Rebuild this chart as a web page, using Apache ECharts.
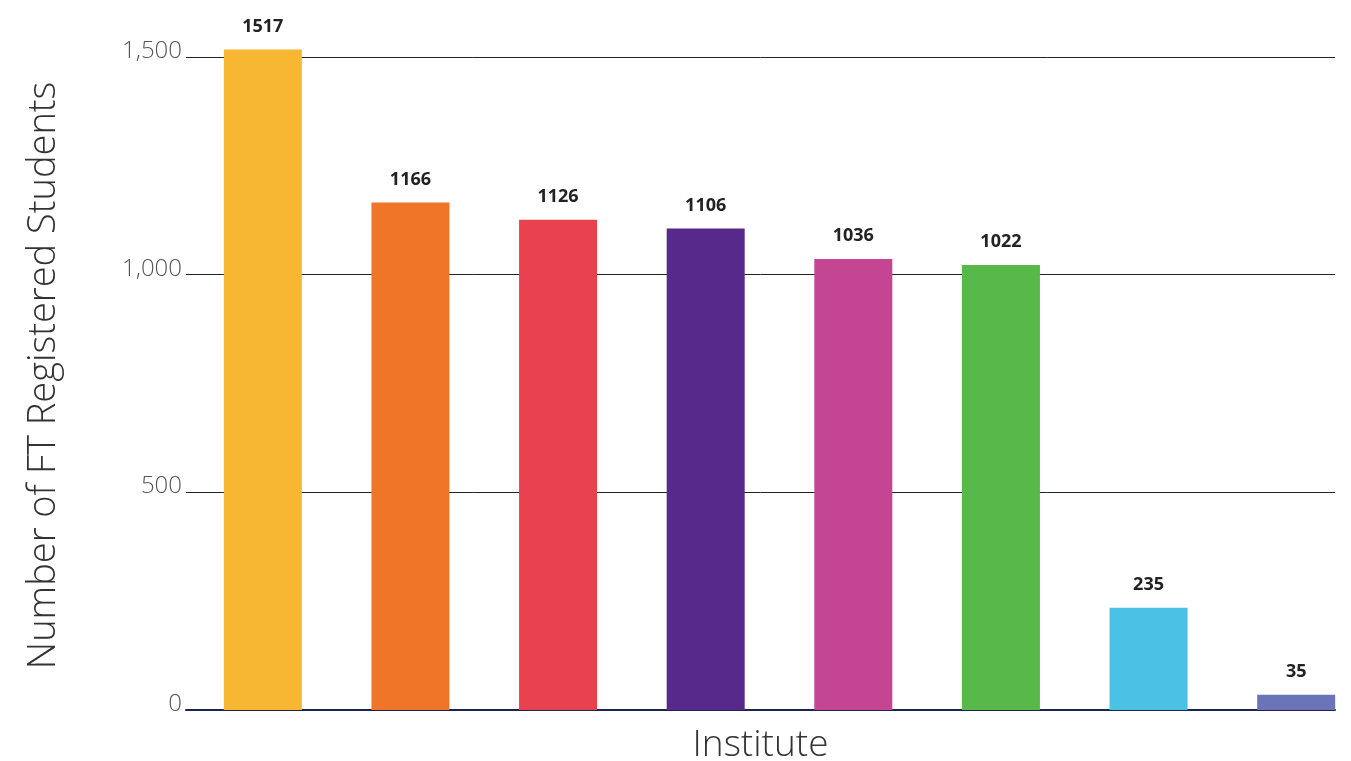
<!DOCTYPE html>
<html>
<head>
<meta charset="utf-8">
<script src="https://cdn.jsdelivr.net/npm/echarts@6/dist/echarts.min.js"></script>
<style>
  html, body { margin: 0; padding: 0; background: #fff; }
  #chart { width: 1351px; height: 761px; }
</style>
</head>
<body>
<div id="chart"></div>
<script>
const institutes = ['A', 'B', 'C', 'D', 'E', 'F', 'G', 'H'];
const students = [1517, 1166, 1126, 1106, 1036, 1022, 235, 35];
const barColors = ['#f7b733', '#ef7628', '#e8414f', '#57298a', '#c44693', '#59b84a', '#4bc1e3', '#6b74b8'];
const yTicks = [0, 500, 1000, 1500];

const font = '"Open Sans", "Noto Sans", sans-serif';

const chart = echarts.init(document.getElementById('chart'));

chart.setOption({
  backgroundColor: '#fff',
  animation: false,
  grid: [
    // grid for axes and gridlines
    { left: 186, right: 16, top: 57, bottom: 51, outerBoundsMode: 'none' },
    // grid for the bars (bands slightly wider than the gridlines)
    { left: 189, width: 1181, top: 57, bottom: 51, outerBoundsMode: 'none' }
  ],
  xAxis: [
    {
      gridIndex: 0,
      type: 'category',
      data: institutes,
      name: 'Institute',
      nameLocation: 'middle',
      nameGap: 17,
      nameTextStyle: { fontFamily: font, fontSize: 37, fontWeight: 300, color: '#333' },
      axisLine: { lineStyle: { color: '#1b2550', width: 2 } },
      axisTick: { show: false },
      axisLabel: { show: false }
    },
    {
      gridIndex: 1,
      type: 'category',
      data: institutes,
      show: false
    }
  ],
  yAxis: [
    {
      gridIndex: 0,
      type: 'value',
      min: yTicks[0],
      max: yTicks[yTicks.length - 1],
      interval: 500,
      name: 'Number of FT Registered Students',
      nameLocation: 'middle',
      nameGap: 123,
      nameTextStyle: { fontFamily: font, fontSize: 38, fontWeight: 300, color: '#333', padding: [0, 0, 0, 16] },
      axisLine: { show: false },
      axisTick: { show: false },
      axisLabel: {
        margin: 4,
        fontFamily: font,
        fontSize: 24,
        fontWeight: 300,
        color: '#555',
        verticalAlign: 'bottom',
        padding: [0, 0, -6, 0],
        formatter: (v) => v.toLocaleString('en-US')
      },
      splitLine: { lineStyle: { color: '#1e2233', width: 1 } }
    },
    {
      gridIndex: 1,
      type: 'value',
      min: yTicks[0],
      max: yTicks[yTicks.length - 1],
      show: false,
      splitLine: { show: false }
    }
  ],
  series: [
    {
      type: 'bar',
      xAxisIndex: 1,
      yAxisIndex: 1,
      clip: false,
      barWidth: 78,
      data: students.map((v, i) => ({ value: v, itemStyle: { color: barColors[i] } })),
      label: {
        show: true,
        position: 'top',
        distance: 14,
        fontFamily: font,
        fontSize: 18,
        fontWeight: 'bold',
        color: '#222'
      }
    }
  ]
});
</script>
</body>
</html>
